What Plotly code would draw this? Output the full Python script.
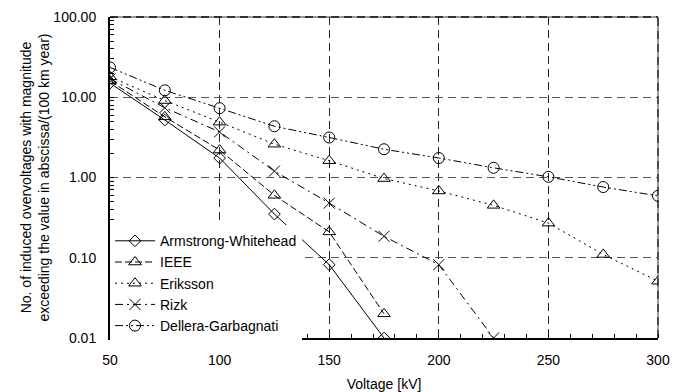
import plotly.graph_objects as go

voltage = [50, 75, 100, 125, 150, 175, 200, 225, 250, 275, 300]

armstrong = [15.0, 5.2, 1.75, 0.35, 0.082, 0.01]
ieee = [16.0, 5.7, 2.2, 0.6, 0.21, 0.02]
eriksson = [18.0, 9.1, 4.9, 2.6, 1.62, 0.97, 0.68, 0.45, 0.27, 0.11, 0.051]
rizk = [17.0, 7.4, 3.7, 1.2, 0.48, 0.185, 0.082, 0.01]
dellera = [23.5, 12.2, 7.3, 4.35, 3.15, 2.25, 1.75, 1.32, 1.02, 0.76, 0.59]

y_ticks = [0.01, 0.1, 1, 10, 100]
y_ticklabels = ["0.01", "0.10", "1.00", "10.00", "100.00"]
x_ticks = [50, 100, 150, 200, 250, 300]

series = [
    ("Armstrong-Whitehead", armstrong, "solid", "diamond-open", 9),
    ("IEEE", ieee, "7px,3px", "triangle-up-open", 11),
    ("Eriksson", eriksson, "2px,4px", "triangle-up-open", 11),
    ("Rizk", rizk, "8px,4px,2px,4px", "x-thin-open", 11),
    ("Dellera-Garbagnati", dellera, "8px,3px,2px,3px,2px,3px", "circle-open", 11),
]

fig = go.Figure()
for name, vals, dash, sym, size in series:
    fig.add_trace(go.Scatter(
        x=voltage[:len(vals)], y=vals, name=name, mode="lines+markers",
        line=dict(color="black", width=1, dash=dash),
        marker=dict(symbol=sym, size=size, color="black",
                    line=dict(color="black", width=1)),
    ))

font = "Arial, Liberation Sans, sans-serif"
fig.update_layout(
    width=686, height=392,
    margin=dict(l=110, r=28, t=17, b=54),
    paper_bgcolor="white", plot_bgcolor="white",
    font=dict(family=font, size=14, color="black"),
    showlegend=True,
    legend=dict(x=0.0, y=-0.01, xanchor="left", yanchor="bottom",
                bgcolor="white", borderwidth=0,
                font=dict(family=font, size=14, color="black"),
                tracegroupgap=0, itemwidth=40),
    shapes=[
        dict(type="line", xref="paper", yref="paper", x0=0, x1=1, y0=1, y1=1,
             line=dict(color="#9a9a9a", width=2), layer="below"),
        dict(type="line", xref="paper", yref="paper", x0=1, x1=1, y0=0, y1=1,
             line=dict(color="#9a9a9a", width=2), layer="below"),
        dict(type="line", xref="paper", yref="paper", x0=0, x1=1, y0=1, y1=1,
             line=dict(color="#333333", width=2, dash="8px,5px"), layer="below"),
        dict(type="line", xref="paper", yref="paper", x0=1, x1=1, y0=0, y1=1,
             line=dict(color="#333333", width=1.5, dash="8px,5px"), layer="below"),
    ],
)
fig.update_xaxes(
    range=[50, 300], tickvals=x_ticks, ticks="outside", ticklen=8,
    tickcolor="rgba(0,0,0,0)", showline=True, automargin=False,
    linecolor="black", linewidth=2, mirror=False,
    showgrid=True, gridcolor="#222222", griddash="8px,5px", gridwidth=1,
    minor=dict(dtick=10, tick0=50, ticks="inside", ticklen=4, tickcolor="black", showgrid=False),
    title=dict(text="Voltage [kV]", font=dict(size=14), standoff=12),
    tickfont=dict(size=14), zeroline=False,
)
fig.update_yaxes(
    type="log", range=[-2, 2], tickvals=y_ticks, ticktext=y_ticklabels,
    ticks="outside", ticklen=9, tickcolor="rgba(0,0,0,0)",
    showline=True, linecolor="black", linewidth=2, automargin=False,
    showgrid=True, gridcolor="#555555", griddash="8px,5px", gridwidth=1,
    minor=dict(dtick="D1", ticks="inside", ticklen=4, tickcolor="black", showgrid=False),
    title=dict(text="No. of induced overvoltages with magnitude<br>exceeding the value in abscissa/(100 km year)",
               font=dict(size=14), standoff=0),
    tickfont=dict(size=14), zeroline=False,
)

fig.write_html("out.html")
